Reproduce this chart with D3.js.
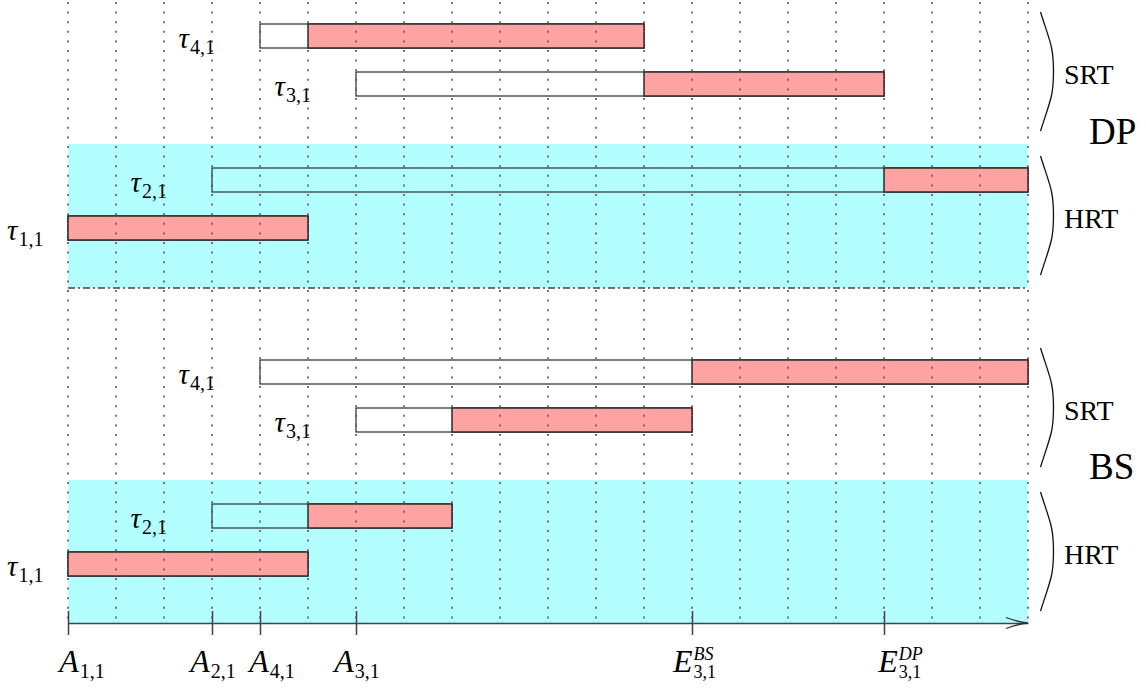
<!DOCTYPE html>
<html>
<head>
<meta charset="utf-8">
<script src="https://cdn.jsdelivr.net/npm/d3@7"></script>
<style>
  html, body { margin: 0; padding: 0; background: #fff; }
  svg { display: block; }
  text { font-family: "Liberation Serif", "DejaVu Serif", serif; }
</style>
</head>
<body>
<svg id="chart" width="1146" height="688"></svg>
<script>
// ---------- data ----------
const panels = ["DP", "BS"];
const taskSubs = ["4,1", "3,1", "2,1", "1,1"];
const taskClass = ["SRT", "SRT", "HRT", "HRT"];
const release = [4, 6, 3, 0];
const dpExecStart = [5, 12, 17, 0];
const dpEnd = [12, 17, 20, 5];
const bsExecStart = [13, 8, 5, 0];
const bsEnd = [20, 13, 8, 5];
const tickValues = [0, 3, 4, 6, 13, 17];
const tickBase = ["A", "A", "A", "A", "E", "E"];
const tickSub = ["1,1", "2,1", "4,1", "3,1", "3,1", "3,1"];
const tickSup = ["", "", "", "", "BS", "DP"];
const timeDomain = [0, 20];

// ---------- setup ----------
const FONT = "Liberation Serif, DejaVu Serif, serif";
const svg = d3.select("#chart").attr("font-family", FONT);
const x = d3.scaleLinear().domain(timeDomain).range([68, 1028]);
const y = d3.scaleLinear().domain([0, 26]).range([0, 624]); // 24px per row unit
const execStart = { DP: dpExecStart, BS: bsExecStart };
const endT = { DP: dpEnd, BS: bsEnd };
const CYAN = "#b3ffff", RED = "#ffa2a2";

function rowTop(i, p) { return p * 14 + 1 + 2 * i + (i >= 2 ? 2 : 0); }

// cyan HRT bands
panels.forEach((p, pi) => {
  svg.append("rect")
    .attr("x", x(timeDomain[0])).attr("width", x(timeDomain[1]) - x(timeDomain[0]))
    .attr("y", y(pi * 14 + 6)).attr("height", y(6) - y(0))
    .attr("fill", CYAN);
});

// bars
const gBars = svg.append("g");
panels.forEach((p, pi) => {
  taskSubs.forEach((t, i) => {
    const top = y(rowTop(i, pi)), h = y(1) - y(0);
    gBars.append("rect")
      .attr("x", x(release[i])).attr("y", top)
      .attr("width", x(endT[p][i]) - x(release[i])).attr("height", h)
      .attr("fill", "none").attr("stroke", "#3a3a3a").attr("stroke-width", 1.3);
    gBars.append("rect")
      .attr("x", x(execStart[p][i])).attr("y", top)
      .attr("width", x(endT[p][i]) - x(execStart[p][i])).attr("height", h)
      .attr("fill", RED).attr("stroke", "#2a2a2a").attr("stroke-width", 1.5);
  });
});

// dotted grid
svg.append("g").selectAll("line")
  .data(d3.range(timeDomain[0], timeDomain[1] + 1))
  .join("line")
  .attr("x1", d => x(d)).attr("x2", d => x(d))
  .attr("y1", 2).attr("y2", y(26) - 4)
  .attr("stroke", "#555").attr("stroke-width", 1.6)
  .attr("stroke-dasharray", "2 7.6");

// dash-dot separator
svg.append("line")
  .attr("x1", x(timeDomain[0])).attr("x2", x(timeDomain[1]))
  .attr("y1", y(12)).attr("y2", y(12))
  .attr("stroke", "#444").attr("stroke-width", 1.3)
  .attr("stroke-dasharray", "7 3 2 3");

// task labels (single text element each)
const gLab = svg.append("g");
panels.forEach((p, pi) => {
  taskSubs.forEach((t, i) => {
    const base = y(rowTop(i, pi) + 1) - 0.5;
    const txt = gLab.append("text").attr("font-family", FONT);
    const tau = txt.append("tspan").attr("x", 0).attr("y", base)
      .attr("font-size", 29).attr("font-style", "italic").text("τ");
    const w = tau.node().getComputedTextLength();
    txt.append("tspan").attr("x", w + 1).attr("y", base + 6)
      .attr("font-size", 20).text(t);
    const bb = txt.node().getBBox();
    let left = x(release[i]) - 45 - bb.width;
    if (left < 7) left = 7;
    txt.attr("transform", `translate(${left - bb.x},0)`);
  });
});

// braces + class labels + panel labels
const gBr = svg.append("g");
panels.forEach((p, pi) => {
  [[0.5, 5.5, "SRT"], [6.5, 11.5, "HRT"]].forEach(([a, b, lab]) => {
    const y0 = y(pi * 14 + a), y1 = y(pi * 14 + b) - 1, ym = (y0 + y1) / 2;
    gBr.append("path")
      .attr("d", `M1040.5,${y0} C1050,${y0 + 30} 1053.5,${ym - 25} 1053.5,${ym} C1053.5,${ym + 25} 1050,${y1 - 30} 1040.5,${y1}`)
      .attr("fill", "none").attr("stroke", "#111").attr("stroke-width", 1.3);
    gBr.append("text").attr("x", 1064).attr("y", ym + 12)
      .attr("font-family", FONT).attr("font-size", 28).text(lab);
  });
  gBr.append("text").attr("x", 1089).attr("y", y(pi * 14 + 6) - (pi ? 1 : 0))
    .attr("font-family", FONT).attr("font-size", 37).text(p);
});

// axis
const axisY = y(26) - 1;
const axis = d3.axisBottom(x).tickValues(tickValues).tickSizeInner(12).tickSizeOuter(0).tickFormat("");
const gAx = svg.append("g").attr("transform", `translate(0,${axisY})`).call(axis);
gAx.select(".domain").attr("stroke", "#444").attr("stroke-width", 1.5);
gAx.selectAll(".tick line").attr("y1", -12).attr("stroke", "#4a3c3c").attr("stroke-width", 1.5);
svg.append("path")
  .attr("d", `M${x(20) - 22},${axisY - 5.5} Q${x(20) - 10},${axisY - 1} ${x(20)},${axisY} Q${x(20) - 10},${axisY + 1} ${x(20) - 22},${axisY + 5.5}`)
  .attr("fill", "none").attr("stroke", "#333").attr("stroke-width", 1.3);

// tick labels (single text element each)
const nudge = [13, 0, 11, 0, 2, 16];
tickValues.forEach((v, i) => {
  const base = 672;
  const txt = svg.append("text").attr("font-family", FONT);
  const b = txt.append("tspan").attr("x", 0).attr("y", base)
    .attr("font-size", 32).attr("font-style", "italic").text(tickBase[i]);
  const w = b.node().getComputedTextLength();
  if (tickSup[i]) {
    txt.append("tspan").attr("x", w + 1).attr("y", base - 12)
      .attr("font-size", 18).attr("font-style", "italic").text(tickSup[i]);
    txt.append("tspan").attr("x", w + 1).attr("y", base + 6)
      .attr("font-size", 18).text(tickSub[i]);
  } else {
    txt.append("tspan").attr("x", w + 1).attr("y", base + 6)
      .attr("font-size", 20).text(tickSub[i]);
  }
  const bb = txt.node().getBBox();
  txt.attr("transform", `translate(${x(v) + nudge[i] - bb.width / 2 - bb.x},0)`);
});
</script>
</body>
</html>
